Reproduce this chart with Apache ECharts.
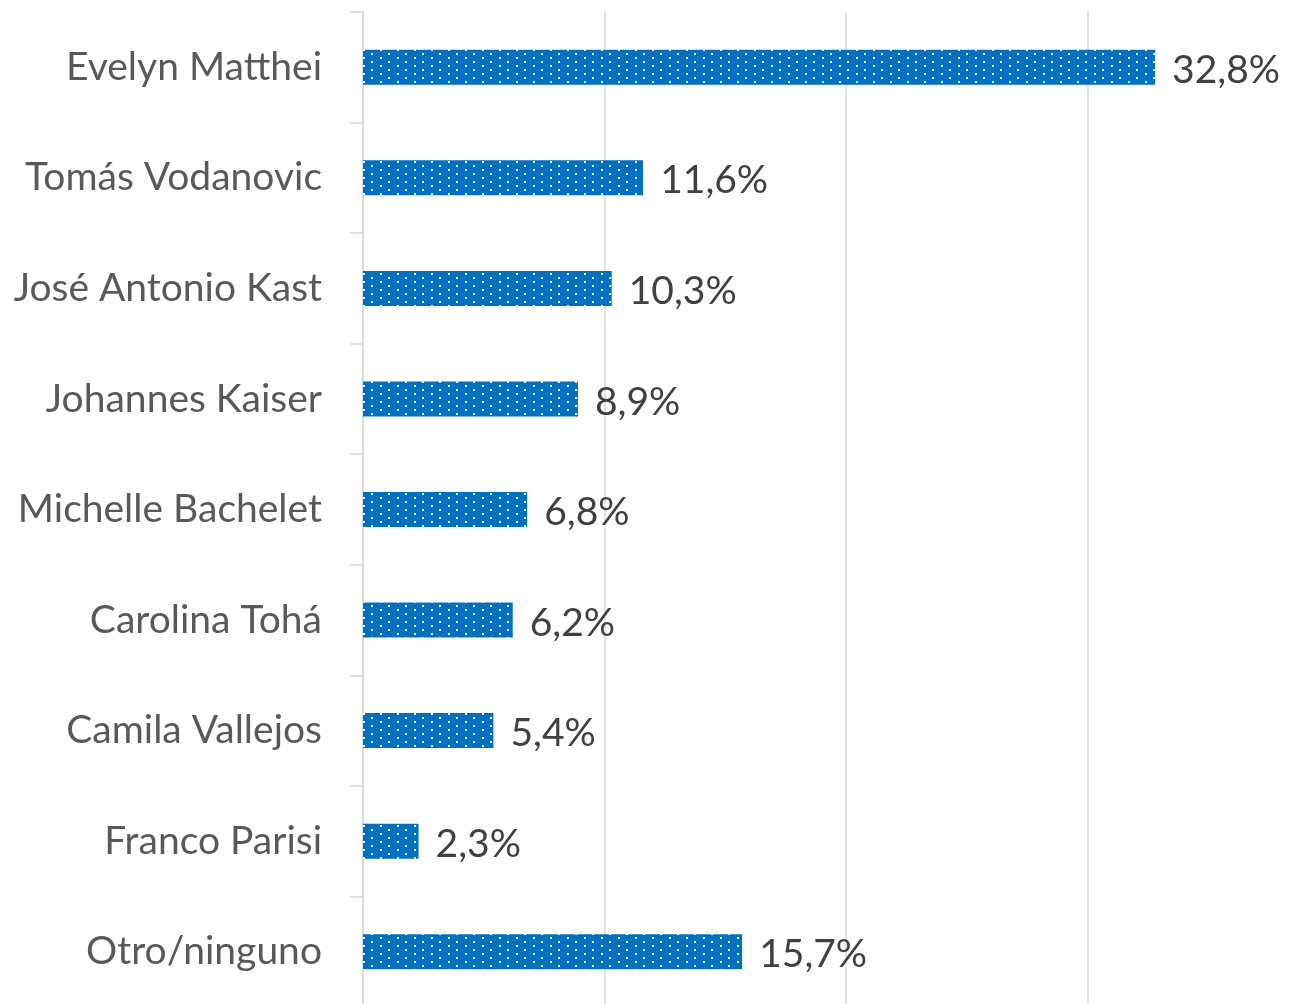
<!DOCTYPE html>
<html>
<head>
<meta charset="utf-8">
<script src="https://cdn.jsdelivr.net/npm/echarts@6/dist/echarts.min.js"></script>
<style>
  html, body { margin: 0; padding: 0; background: #fff; }
  #main { width: 1313px; height: 1004px; }
</style>
</head>
<body>
<div id="main"></div>
<script>
const candidates = [
  "Evelyn Matthei",
  "Tomás Vodanovic",
  "José Antonio Kast",
  "Johannes Kaiser",
  "Michelle Bachelet",
  "Carolina Tohá",
  "Camila Vallejos",
  "Franco Parisi",
  "Otro/ninguno"
];
const shares = [32.8, 11.6, 10.3, 8.9, 6.8, 6.2, 5.4, 2.3, 15.7];

// dotted fill like the Excel pattern
function dotPattern() {
  const c = document.createElement("canvas");
  c.width = 17;
  c.height = 8;
  const g = c.getContext("2d");
  g.fillStyle = "#0070C0";
  g.fillRect(0, 0, 17, 8);
  g.fillStyle = "rgba(255,255,255,0.95)";
  g.fillRect(6, 1, 2, 2);
  g.fillRect(14, 5, 2, 2);
  return c;
}

const chart = echarts.init(document.getElementById("main"));
chart.setOption({
  animation: false,
  grid: { left: 363, top: 12, width: 966, height: 995, outerBoundsMode: "none", containLabel: false },
  xAxis: {
    type: "value",
    min: 0,
    max: 40,
    interval: 10,
    axisLabel: { show: false },
    axisLine: { show: false },
    axisTick: { show: false },
    splitLine: { lineStyle: { color: "#d9d9d9", width: 1.5 } }
  },
  yAxis: {
    type: "category",
    inverse: true,
    data: candidates,
    axisLine: { lineStyle: { color: "#d9d9d9", width: 1.5 } },
    axisTick: { show: true, length: 13, lineStyle: { color: "#d9d9d9", width: 1.5 } },
    axisLabel: {
      margin: 41,
      color: "#595959",
      fontFamily: "Lato",
      fontSize: 39
    }
  },
  series: [{
    type: "bar",
    data: shares,
    barWidth: 35,
    itemStyle: { color: { image: dotPattern(), repeat: "repeat" } },
    label: {
      show: true,
      position: "right",
      distance: 17,
      offset: [0, 3],
      color: "#404040",
      fontFamily: "Lato",
      fontSize: 39,
      formatter: p => p.value.toFixed(1).replace(".", ",") + "%"
    }
  }]
});
</script>
</body>
</html>
